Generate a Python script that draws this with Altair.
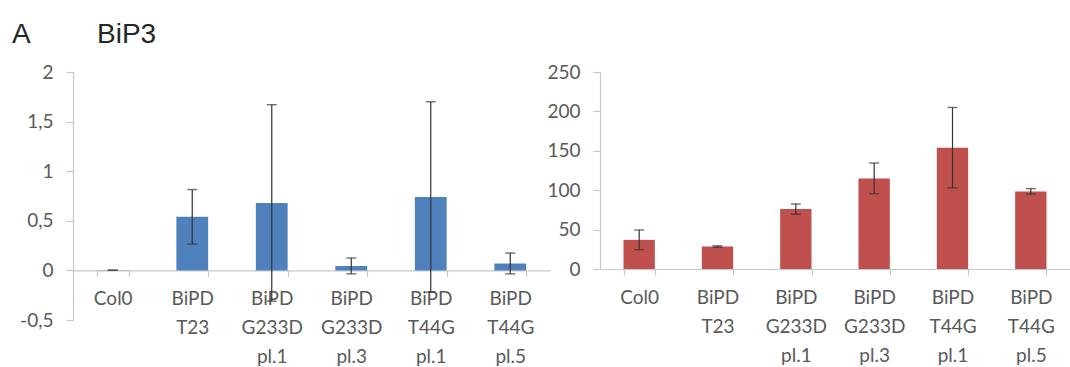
import altair as alt
import pandas as pd

categories = ["Col0", "BiPD\nT23", "BiPD\nG233D\npl.1", "BiPD\nG233D\npl.3",
              "BiPD\nT44G\npl.1", "BiPD\nT44G\npl.5"]
left_values = [0.002, 0.54, 0.68, 0.045, 0.74, 0.07]
left_errors = [0.0, 0.275, 0.99, 0.08, 0.96, 0.105]
right_values = [37, 28.5, 76, 115, 154, 98.5]
right_errors = [12.5, 1.0, 6.5, 19.5, 51, 3.5]
left_ticks = [-0.5, 0, 0.5, 1, 1.5, 2]
right_ticks = [0, 50, 100, 150, 200, 250]
panel_label = ["A"]
gene_title = ["BiP3"]


def make_df(vals, errs):
    return pd.DataFrame({
        "cat": categories,
        "val": vals,
        "lo": [v - e for v, e in zip(vals, errs)],
        "hi": [v + e for v, e in zip(vals, errs)],
    })


LABEL_EXPR = "(datum.value < 0 ? '-' : '') + replace(toString(abs(datum.value)), '.', ',')"


def panel(df, color, domain, ticks, width, height, x_offset, extra=None):
    xscale = alt.Scale(paddingInner=0.6, paddingOuter=0.3)
    yscale = alt.Scale(domain=domain, nice=False, zero=False)
    xaxis = alt.Axis(labelAngle=0, labelExpr="split(datum.label, '\\n')",
                     offset=x_offset, tickBand="extent", tickSize=6,
                     labelPadding=13, labelLineHeight=29, labelAlign="center",
                     labelOverlap=False)
    yaxis = alt.Axis(values=ticks, tickCount=len(ticks), grid=False, tickSize=7,
                     labelPadding=13, labelExpr=LABEL_EXPR, labelOverlap=False)
    x = alt.X("cat:N", sort=categories, scale=xscale, title=None, axis=xaxis)
    base = alt.Chart(df)
    bars = base.mark_bar(color=color).encode(
        x=x,
        y=alt.Y("val:Q", scale=yscale, title=None, axis=yaxis),
    )
    rule = base.mark_rule(color="#333333", strokeWidth=1.2).encode(
        x=x,
        y=alt.Y("lo:Q", scale=yscale, title=None, axis=yaxis),
        y2="hi:Q",
    )
    cap_lo = base.mark_tick(color="#333333", thickness=1.4, size=10).encode(
        x=x,
        y=alt.Y("lo:Q", scale=yscale, title=None, axis=yaxis),
    )
    cap_hi = base.mark_tick(color="#333333", thickness=1.4, size=10).encode(
        x=x,
        y=alt.Y("hi:Q", scale=yscale, title=None, axis=yaxis),
    )
    layers = [bars, rule, cap_lo, cap_hi]
    if extra:
        layers += extra
    return alt.layer(*layers).properties(width=width, height=height)


title_a = alt.Chart(pd.DataFrame({"t": panel_label})).mark_text(
    align="left", baseline="alphabetic", fontSize=28, font="Liberation Sans", color="#262626"
).encode(text="t:N", x=alt.value(-61), y=alt.value(-29))
title_b = alt.Chart(pd.DataFrame({"t": gene_title})).mark_text(
    align="left", baseline="alphabetic", fontSize=28, font="Liberation Sans", color="#262626"
).encode(text="t:N", x=alt.value(24), y=alt.value(-29))

left_h = 248
left = panel(make_df(left_values, left_errors), "#4F81BD", [-0.5, 2], left_ticks,
             477, left_h, -left_h * 0.5 / 2.5, extra=[title_a, title_b])
right = panel(make_df(right_values, right_errors), "#C0504D", [0, 250], right_ticks,
              470, 197, 0)

chart = alt.hconcat(left, right, spacing=50, bounds="flush").properties(
    padding={"left": 12, "top": 21, "right": 0, "bottom": 0}
).configure_view(stroke=None).configure_axis(
    domainColor="#C8C8C8", tickColor="#C8C8C8", labelFont="Lato", labelFontSize=19,
    labelColor="#595959", grid=False, domainWidth=1.2, tickWidth=1.2
)

chart.save("out.html", embed_options={"renderer": "svg", "actions": False})
